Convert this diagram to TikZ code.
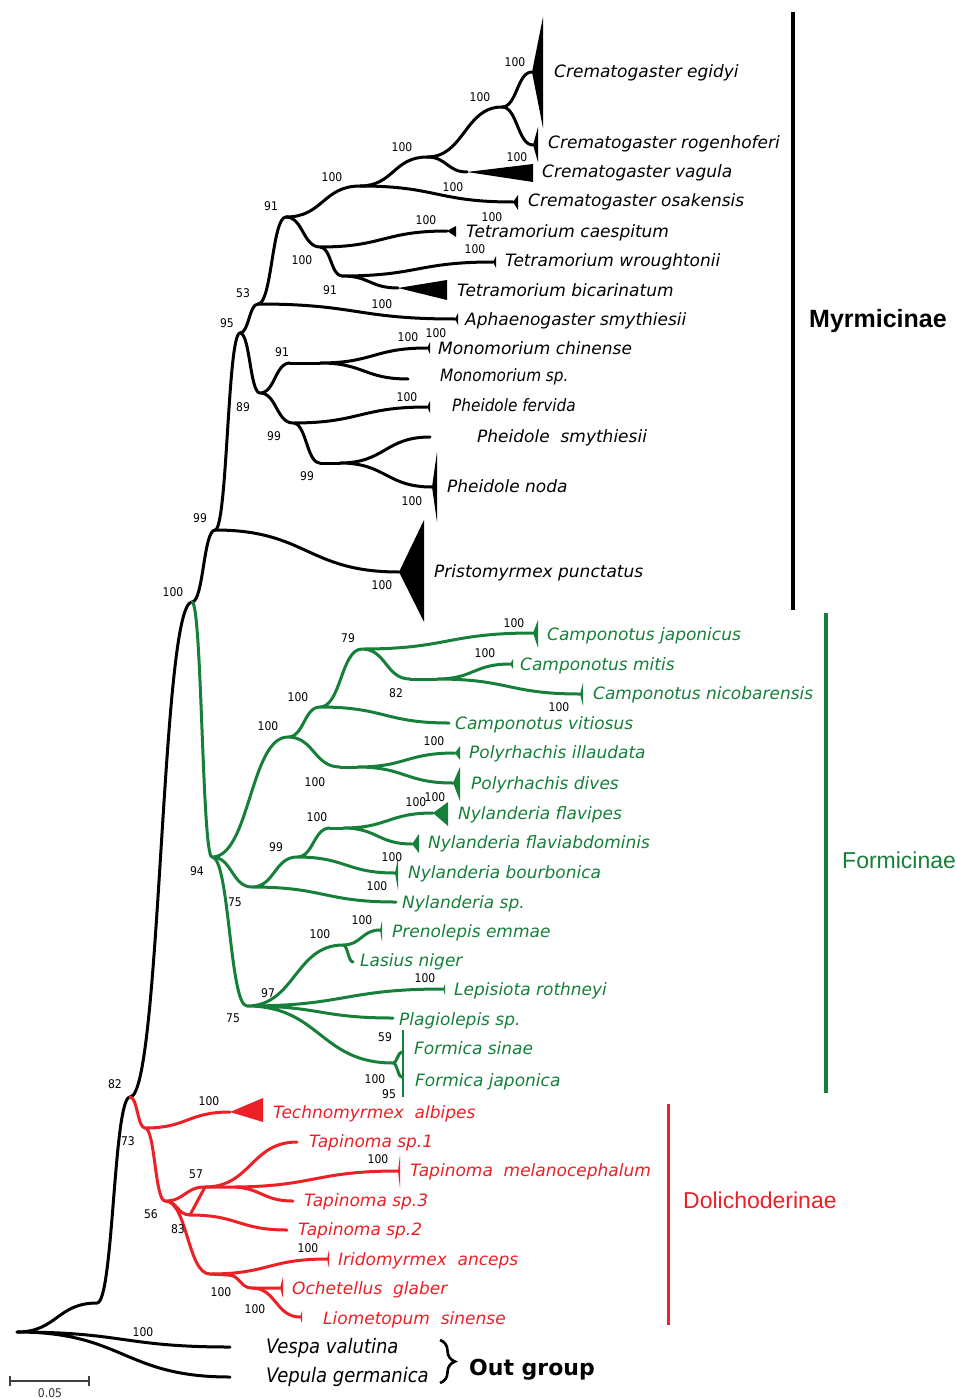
\documentclass[tikz,border=0pt]{standalone}
\usepackage{fontspec}
\setmainfont{DejaVu Sans}
\newfontfamily\taxfont{DejaVu Sans Oblique}
\newfontfamily\taxcfont{DejaVu Sans Condensed Oblique}
\newfontfamily\numfont{DejaVu Sans Condensed}
\newfontfamily\arialb{Liberation Sans Bold}
\newfontfamily\arialr{Liberation Sans}
\newfontfamily\vbold{DejaVu Sans Bold}
\usetikzlibrary{calc,decorations.pathreplacing}
\definecolor{fgreen}{RGB}{22,128,58}
\definecolor{dred}{RGB}{236,32,39}
\begin{document}
\begin{tikzpicture}[x=1pt,y=-1pt,
  br/.style={line width=3pt,line cap=round,line join=round,
    to path={let \p1=(\tikztostart),\p2=(\tikztotarget),\n1={(\x1+\x2)/2} in
      .. controls (\n1,\y1) and (\n1,\y2) .. (\tikztotarget)}},
  sl/.style={line width=3pt,line cap=round},
  tx/.style={anchor=base west,yshift=-6pt,inner sep=0pt,font=\taxfont\fontsize{17}{17}\selectfont},
  txc/.style={anchor=base west,yshift=-6pt,inner sep=0pt,font=\taxcfont\fontsize{17}{17}\selectfont},
  txo/.style={anchor=base west,inner sep=0pt,font=\taxcfont\fontsize{20}{20}\selectfont},
  bs/.style={inner sep=0pt,font=\numfont\fontsize{12}{12}\selectfont},
  grp/.style={anchor=base west,inner sep=0pt,font=\arialr\fontsize{23}{23}\selectfont},
  gbar/.style={line width=3.5pt}
]
\useasboundingbox (0,0) rectangle (956,1399);
\fill[white] (0,0) rectangle (956,1399);

% ---------- coordinates: Myrmicinae + outgroup ----------
\coordinate (root) at (17,1332);
\coordinate (s1) at (97,1303);
\coordinate (n82) at (130,1097);
\coordinate (n100) at (192,602);
\coordinate (n99) at (215,530);
\coordinate (n95) at (240,333);
\coordinate (n53) at (258,304);
\coordinate (n91) at (286,217);
\coordinate (c1) at (360,186);
\coordinate (c2) at (427,157);
\coordinate (c3) at (502,107);
\coordinate (tEg) at (532,72);
\coordinate (tRo) at (533,145);
\coordinate (tVa) at (467,172);
\coordinate (tOs) at (513,202);
\coordinate (t1) at (320,247);
\coordinate (tCa) at (447,231);
\coordinate (t2) at (342,276);
\coordinate (tWr) at (493,262);
\coordinate (tBi) at (398,288);
\coordinate (tAp) at (455,319);
\coordinate (n89) at (260,393);
\coordinate (m91) at (290,363);
\coordinate (ms) at (320,363);
\coordinate (tMc) at (427,348);
\coordinate (tMs) at (408,379);
\coordinate (p99) at (293,423);
\coordinate (tPf) at (427,407);
\coordinate (p99b) at (320,463);
\coordinate (ps) at (340,463);
\coordinate (tPs) at (430,437);
\coordinate (tPn) at (432,487);
\coordinate (tPr) at (399,572);
\coordinate (tVv) at (230,1347);
\coordinate (tVg) at (230,1377);

\draw[br] (root) to (s1) to (n82) to (n100) to (n99) to (n95) to (n53) to (n91) to (c1) to (c2) to (c3) to (tEg);
\draw[br] (c3) to (tRo) (c2) to (tVa) (c1) to (tOs)
  (n91) to (t1) to (tCa) (t1) to (t2) to (tWr) (t2) to (tBi)
  (n53) to (tAp) (n95) to (n89) to (m91) (ms) to (tMc) (ms) to (tMs)
  (n89) to (p99) to (tPf) (p99) to (p99b) (ps) to (tPs) (ps) to (tPn)
  (n99) to (tPr) (root) to (tVv) (root) to (tVg);
\draw[sl] (m91) -- (ms) (p99b) -- (ps);

\fill (tEg) -- (543,17) -- (543,128) -- cycle;
\fill (tRo) -- (538,127) -- (538,162) -- cycle;
\fill (tVa) -- (533,164) -- (533,182) -- cycle;
\fill (tOs) -- (518,195) -- (518,210) -- cycle;
\fill (tCa) -- (456,226) -- (456,237) -- cycle;
\fill (tWr) -- (496,256) -- (496,268) -- cycle;
\fill (tBi) -- (447,280) -- (447,300) -- cycle;
\fill (tAp) -- (458,313) -- (458,325) -- cycle;
\fill (tMc) -- (430,342) -- (430,354) -- cycle;
\fill (tPf) -- (430,401) -- (430,413) -- cycle;
\fill (tPn) -- (437,452) -- (437,522) -- cycle;
\fill (tPr) -- (424,520) -- (424,622) -- cycle;

% ---------- Formicinae ----------
\coordinate (f94) at (212,857);
\coordinate (f100a) at (288,737);
\coordinate (f100b) at (320,707);
\coordinate (f79) at (362,649);
\coordinate (tCj) at (533,633);
\coordinate (f82) at (410,679);
\coordinate (fs82) at (437,679);
\coordinate (tCm) at (510,664);
\coordinate (tCn) at (580,694);
\coordinate (tCv) at (449,723);
\coordinate (fp) at (340,767);
\coordinate (fps) at (357,767);
\coordinate (tPi) at (455,753);
\coordinate (tPd) at (453,783);
\coordinate (f75) at (252,887);
\coordinate (f99) at (297,857);
\coordinate (f100c) at (330,828);
\coordinate (fs100) at (343,828);
\coordinate (tNf) at (433,813);
\coordinate (tNa) at (412,844);
\coordinate (tNb) at (395,873);
\coordinate (tNs) at (396,902);
\coordinate (f75b) at (247,1006);
\coordinate (f100d) at (343,945);
\coordinate (tPe) at (380,930);
\coordinate (tLn) at (353,962);
\coordinate (tLr) at (443,989);
\coordinate (tPl) at (393,1018);
\coordinate (ffo) at (393,1063);
\coordinate (tFs) at (402,1052);
\coordinate (tFj) at (402,1077);
\coordinate (fb1) at (403,1030);
\coordinate (fb2) at (403,1097);

\begin{scope}[fgreen]
\draw[br] (n100) to (f94) to (f100a) to (f100b) to (f79) to (tCj)
  (f79) to (f82) (fs82) to (tCm) (fs82) to (tCn) (f100b) to (tCv)
  (f100a) to (fp) (fps) to (tPi) (fps) to (tPd)
  (f94) to (f75) to (f99) to (f100c) (fs100) to (tNf) (fs100) to (tNa)
  (f99) to (tNb) (f75) to (tNs)
  (f94) to (f75b) to (f100d) to (tPe) (f100d) to (tLn)
  (f75b) to (tLr) (f75b) to (tPl) (f75b) to (ffo) to (tFs) (ffo) to (tFj);
\draw[sl] (f82) -- (fs82) (fp) -- (fps) (f100c) -- (fs100);
\draw[line width=2.5pt] (fb1) -- (fb2);
\fill (tCj) -- (538,620) -- (538,648) -- cycle;
\fill (tCm) -- (513,659) -- (513,669) -- cycle;
\fill (tCn) -- (583,683) -- (583,706) -- cycle;
\fill (tPi) -- (460,746) -- (460,760) -- cycle;
\fill (tPd) -- (460,767) -- (460,801) -- cycle;
\fill (tNf) -- (448,802) -- (448,826) -- cycle;
\fill (tNa) -- (419,834) -- (419,853) -- cycle;
\fill (tNb) -- (398,858) -- (398,890) -- cycle;
\fill (tPe) -- (382,921) -- (382,942) -- cycle;
\fill (tLr) -- (445,984) -- (445,995) -- cycle;
\end{scope}

% ---------- Dolichoderinae ----------
\coordinate (d73) at (145,1128);
\coordinate (tTa) at (230,1112);
\coordinate (d56) at (165,1201);
\coordinate (d57) at (205,1187);
\coordinate (tT1) at (297,1142);
\coordinate (ds3) at (230,1187);
\coordinate (tTm) at (398,1171);
\coordinate (tT3) at (293,1201);
\coordinate (d83) at (190,1215);
\coordinate (tT2) at (287,1230);
\coordinate (dI) at (210,1274);
\coordinate (tIr) at (327,1259);
\coordinate (dO) at (228,1275);
\coordinate (dOL) at (252,1288);
\coordinate (tOc) at (280,1288);
\coordinate (tLi) at (300,1317);

\begin{scope}[dred]
\draw[br] (n82) to (d73) to (tTa) (d73) to (d56) to (d57) to (tT1)
  (ds3) to (tTm) (ds3) to (tT3) (d56) to (d83) to (tT2)
  (d56) to (dI) to (tIr) (dO) to (dOL) (dOL) to (tLi);
\draw[sl] (d57) -- (ds3) (d83) -- (d57) (dI) -- (dO) (dOL) -- (tOc);
\fill (tTa) -- (263,1098) -- (263,1122) -- cycle;
\fill (tTm) -- (400,1155) -- (400,1188) -- cycle;
\fill (tIr) -- (329,1250) -- (329,1268) -- cycle;
\fill (tOc) -- (283,1277) -- (283,1298) -- cycle;
\fill (tLi) -- (302,1311) -- (302,1323) -- cycle;
\end{scope}

% ---------- taxon labels ----------
\node[tx] (lEg) at (554,72) {Crematogaster egidyi};
\node[tx] (lRo) at (548,143) {Crematogaster rogenhoferi};
\node[tx] (lVa) at (542,172) {Crematogaster vagula};
\node[tx] (lOs) at (528,201) {Crematogaster osakensis};
\node[tx] (lCa) at (466,231) {Tetramorium caespitum};
\node[tx] (lWr) at (505,260) {Tetramorium wroughtonii};
\node[tx] (lBi) at (457,290) {Tetramorium bicarinatum};
\node[tx] (lAp) at (465,319) {Aphaenogaster smythiesii};
\node[tx] (lMc) at (438,348) {Monomorium chinense};
\node[txc] (lMs) at (440,375) {Monomorium sp.};
\node[txc] (lPf) at (452,405) {Pheidole fervida};
\node[tx] (lPs) at (477,436) {Pheidole\ \ smythiesii};
\node[tx] (lPn) at (447,486) {Pheidole noda};
\node[tx] (lPr) at (434,571) {Pristomyrmex punctatus};

\begin{scope}[text=fgreen]
\node[tx] (lCj) at (547,634) {Camponotus japonicus};
\node[tx] (lCm) at (520,664) {Camponotus mitis};
\node[tx] (lCn) at (593,693) {Camponotus nicobarensis};
\node[tx] (lCv) at (455,723) {Camponotus vitiosus};
\node[tx] (lPi) at (469,752) {Polyrhachis illaudata};
\node[tx] (lPd) at (471,783) {Polyrhachis dives};
\node[tx] (lNf) at (458,813) {Nylanderia flavipes};
\node[tx] (lNa) at (428,842) {Nylanderia flaviabdominis};
\node[tx] (lNb) at (408,872) {Nylanderia bourbonica};
\node[tx] (lNs) at (402,902) {Nylanderia sp.};
\node[tx] (lPe) at (392,931) {Prenolepis emmae};
\node[tx] (lLn) at (360,960) {Lasius niger};
\node[tx] (lLr) at (454,989) {Lepisiota rothneyi};
\node[tx] (lPl) at (399,1019) {Plagiolepis sp.};
\node[tx] (lFs) at (414,1048) {Formica sinae};
\node[tx] (lFj) at (415,1080) {Formica japonica};
\end{scope}

\begin{scope}[text=dred]
\node[tx] (lTa) at (273,1112) {Technomyrmex\ \ albipes};
\node[tx] (lT1) at (309,1141) {Tapinoma sp.1};
\node[tx] (lTm) at (410,1170) {Tapinoma\ \ melanocephalum};
\node[tx] (lT3) at (304,1200) {Tapinoma sp.3};
\node[tx] (lT2) at (298,1229) {Tapinoma sp.2};
\node[tx] (lIr) at (338,1259) {Iridomyrmex\ \ anceps};
\node[tx] (lOc) at (292,1288) {Ochetellus\ \ glaber};
\node[tx] (lLi) at (323,1318) {Liometopum\ \ sinense};
\end{scope}

\node[txo] (lVv) at (266,1353) {Vespa valutina};
\node[txo] (lVg) at (266,1382) {Vepula germanica};

% ---------- bootstrap values ----------
\node[bs] (b1) at (515,62) {100};
\node[bs] (b2) at (480,97) {100};
\node[bs] (b3) at (402,147) {100};
\node[bs] (b4) at (517,157) {100};
\node[bs] (b5) at (332,177) {100};
\node[bs] (b6) at (453,187) {100};
\node[bs] (b7) at (271,206) {91};
\node[bs] (b8) at (426,220) {100};
\node[bs] (b9) at (492,217) {100};
\node[bs] (b10) at (475,249) {100};
\node[bs] (b11) at (302,260) {100};
\node[bs] (b12) at (330,290) {91};
\node[bs] (b13) at (243,293) {53};
\node[bs] (b14) at (382,304) {100};
\node[bs] (b15) at (227,323) {95};
\node[bs] (b16) at (408,337) {100};
\node[bs] (b17) at (436,333) {100};
\node[bs] (b18) at (282,352) {91};
\node[bs] (b19) at (407,397) {100};
\node[bs] (b20) at (243,407) {89};
\node[bs] (b21) at (274,436) {99};
\node[bs] (b22) at (307,476) {99};
\node[bs] (b23) at (412,501) {100};
\node[bs] (b24) at (200,518) {99};
\node[bs] (b25) at (382,585) {100};
\node[bs] (b26) at (173,592) {100};
\node[bs] (b27) at (514,623) {100};
\node[bs] (b28) at (348,638) {79};
\node[bs] (b29) at (485,653) {100};
\node[bs] (b30) at (396,693) {82};
\node[bs] (b31) at (298,697) {100};
\node[bs] (b32) at (559,707) {100};
\node[bs] (b33) at (268,726) {100};
\node[bs] (b34) at (434,741) {100};
\node[bs] (b35) at (315,782) {100};
\node[bs] (b36) at (416,802) {100};
\node[bs] (b37) at (435,797) {100};
\node[bs] (b38) at (317,817) {100};
\node[bs] (b39) at (276,847) {99};
\node[bs] (b40) at (392,857) {100};
\node[bs] (b41) at (197,871) {94};
\node[bs] (b42) at (377,886) {100};
\node[bs] (b43) at (235,902) {75};
\node[bs] (b44) at (362,920) {100};
\node[bs] (b45) at (320,934) {100};
\node[bs] (b46) at (425,978) {100};
\node[bs] (b47) at (268,993) {97};
\node[bs] (b48) at (233,1018) {75};
\node[bs] (b49) at (385,1037) {59};
\node[bs] (b50) at (375,1079) {100};
\node[bs] (b51) at (389,1094) {95};
\node[bs] (b52) at (115,1084) {82};
\node[bs] (b53) at (209,1101) {100};
\node[bs] (b54) at (128,1141) {73};
\node[bs] (b55) at (378,1159) {100};
\node[bs] (b56) at (196,1174) {57};
\node[bs] (b57) at (151,1214) {56};
\node[bs] (b58) at (178,1229) {83};
\node[bs] (b59) at (308,1248) {100};
\node[bs] (b60) at (221,1292) {100};
\node[bs] (b61) at (255,1309) {100};
\node[bs] (b62) at (143,1332) {100};

% ---------- group bars and labels ----------
\coordinate (mb1) at (793,12);
\coordinate (mb2) at (793,610);
\coordinate (fbA) at (826,613);
\coordinate (fbB) at (826,1093);
\coordinate (db1) at (668,1104);
\coordinate (db2) at (668,1325);
\draw[gbar,line width=4pt] (mb1) -- (mb2);
\draw[gbar,fgreen] (fbA) -- (fbB);
\draw[gbar,dred,line width=3pt] (db1) -- (db2);
\node[grp,font=\arialb\fontsize{25}{25}\selectfont] (gM) at (809,327) {Myrmicinae};
\node[grp,text=fgreen] (gF) at (842,868) {Formicinae};
\node[grp,text=dred] (gD) at (683,1208) {Dolichoderinae};

\coordinate (br1) at (440,1340);
\coordinate (br2) at (440,1383);
\draw[line width=2.6pt,decorate,decoration={brace,amplitude=15pt}] (br1) -- (br2);
\node[anchor=base west,inner sep=0pt,font=\vbold\fontsize{22}{22}\selectfont] (gO) at (469,1375) {Out group};

% ---------- scale bar ----------
\coordinate (sb1) at (10,1381);
\coordinate (sb2) at (89,1381);
\draw[line width=1.5pt,black!75] (sb1) -- (sb2) ([yshift=5pt]sb1) -- ([yshift=-5pt]sb1) ([yshift=5pt]sb2) -- ([yshift=-5pt]sb2);
\node[bs,text=black!80] (sbl) at (50,1393) {0.05};
\end{tikzpicture}
\end{document}
